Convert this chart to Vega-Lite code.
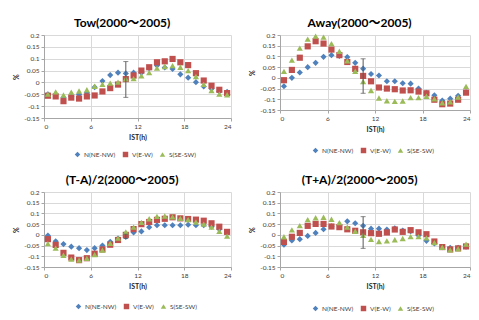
{
  "$schema": "https://vega.github.io/schema/vega-lite/v6.json",
  "background": "white",
  "padding": {"left": 12, "top": 17, "right": 4, "bottom": 2},
  "datasets": {
    "pts": [
      {"p":"T","h":0.5,"N(NE-NW)":-0.05,"V(E-W)":-0.056,"S(SE-SW)":-0.049},
      {"p":"T","h":1.5,"N(NE-NW)":-0.05,"V(E-W)":-0.059,"S(SE-SW)":-0.04},
      {"p":"T","h":2.5,"N(NE-NW)":-0.064,"V(E-W)":-0.079,"S(SE-SW)":-0.053},
      {"p":"T","h":3.5,"N(NE-NW)":-0.058,"V(E-W)":-0.064,"S(SE-SW)":-0.041},
      {"p":"T","h":4.5,"N(NE-NW)":-0.051,"V(E-W)":-0.068,"S(SE-SW)":-0.036},
      {"p":"T","h":5.5,"N(NE-NW)":-0.043,"V(E-W)":-0.059,"S(SE-SW)":-0.031},
      {"p":"T","h":6.5,"N(NE-NW)":-0.02,"V(E-W)":-0.055,"S(SE-SW)":-0.016},
      {"p":"T","h":7.5,"N(NE-NW)":0.006,"V(E-W)":-0.038,"S(SE-SW)":-0.008},
      {"p":"T","h":8.5,"N(NE-NW)":0.031,"V(E-W)":-0.024,"S(SE-SW)":-0.003},
      {"p":"T","h":9.5,"N(NE-NW)":0.041,"V(E-W)":-0.009,"S(SE-SW)":0.001},
      {"p":"T","h":10.5,"N(NE-NW)":0.038,"V(E-W)":0.014,"S(SE-SW)":0.015},
      {"p":"T","h":11.5,"N(NE-NW)":0.041,"V(E-W)":0.029,"S(SE-SW)":0.016},
      {"p":"T","h":12.5,"N(NE-NW)":0.041,"V(E-W)":0.05,"S(SE-SW)":0.028},
      {"p":"T","h":13.5,"N(NE-NW)":0.06,"V(E-W)":0.064,"S(SE-SW)":0.041},
      {"p":"T","h":14.5,"N(NE-NW)":0.071,"V(E-W)":0.085,"S(SE-SW)":0.06},
      {"p":"T","h":15.5,"N(NE-NW)":0.063,"V(E-W)":0.089,"S(SE-SW)":0.067},
      {"p":"T","h":16.5,"N(NE-NW)":0.057,"V(E-W)":0.099,"S(SE-SW)":0.071},
      {"p":"T","h":17.5,"N(NE-NW)":0.034,"V(E-W)":0.085,"S(SE-SW)":0.064},
      {"p":"T","h":18.5,"N(NE-NW)":0.02,"V(E-W)":0.073,"S(SE-SW)":0.05},
      {"p":"T","h":19.5,"N(NE-NW)":0.001,"V(E-W)":0.039,"S(SE-SW)":0.025},
      {"p":"T","h":20.5,"N(NE-NW)":-0.017,"V(E-W)":0.008,"S(SE-SW)":-0.008},
      {"p":"T","h":21.5,"N(NE-NW)":-0.027,"V(E-W)":-0.014,"S(SE-SW)":-0.034},
      {"p":"T","h":22.5,"N(NE-NW)":-0.038,"V(E-W)":-0.031,"S(SE-SW)":-0.049},
      {"p":"T","h":23.5,"N(NE-NW)":-0.04,"V(E-W)":-0.045,"S(SE-SW)":-0.052},
      {"p":"A","h":0.5,"N(NE-NW)":-0.039,"V(E-W)":-0.011,"S(SE-SW)":0.03},
      {"p":"A","h":1.5,"N(NE-NW)":0.0,"V(E-W)":0.037,"S(SE-SW)":0.083},
      {"p":"A","h":2.5,"N(NE-NW)":0.025,"V(E-W)":0.094,"S(SE-SW)":0.139},
      {"p":"A","h":3.5,"N(NE-NW)":0.05,"V(E-W)":0.147,"S(SE-SW)":0.181},
      {"p":"A","h":4.5,"N(NE-NW)":0.07,"V(E-W)":0.171,"S(SE-SW)":0.195},
      {"p":"A","h":5.5,"N(NE-NW)":0.098,"V(E-W)":0.16,"S(SE-SW)":0.19},
      {"p":"A","h":6.5,"N(NE-NW)":0.106,"V(E-W)":0.132,"S(SE-SW)":0.16},
      {"p":"A","h":7.5,"N(NE-NW)":0.102,"V(E-W)":0.106,"S(SE-SW)":0.124},
      {"p":"A","h":8.5,"N(NE-NW)":0.097,"V(E-W)":0.074,"S(SE-SW)":0.08},
      {"p":"A","h":9.5,"N(NE-NW)":0.07,"V(E-W)":0.042,"S(SE-SW)":0.031},
      {"p":"A","h":10.5,"N(NE-NW)":0.043,"V(E-W)":0.009,"S(SE-SW)":-0.017},
      {"p":"A","h":11.5,"N(NE-NW)":0.018,"V(E-W)":-0.016,"S(SE-SW)":-0.059},
      {"p":"A","h":12.5,"N(NE-NW)":0.011,"V(E-W)":-0.045,"S(SE-SW)":-0.094},
      {"p":"A","h":13.5,"N(NE-NW)":-0.016,"V(E-W)":-0.05,"S(SE-SW)":-0.107},
      {"p":"A","h":14.5,"N(NE-NW)":-0.016,"V(E-W)":-0.053,"S(SE-SW)":-0.11},
      {"p":"A","h":15.5,"N(NE-NW)":-0.025,"V(E-W)":-0.059,"S(SE-SW)":-0.108},
      {"p":"A","h":16.5,"N(NE-NW)":-0.027,"V(E-W)":-0.058,"S(SE-SW)":-0.092},
      {"p":"A","h":17.5,"N(NE-NW)":-0.05,"V(E-W)":-0.064,"S(SE-SW)":-0.092},
      {"p":"A","h":18.5,"N(NE-NW)":-0.07,"V(E-W)":-0.072,"S(SE-SW)":-0.086},
      {"p":"A","h":19.5,"N(NE-NW)":-0.081,"V(E-W)":-0.102,"S(SE-SW)":-0.098},
      {"p":"A","h":20.5,"N(NE-NW)":-0.106,"V(E-W)":-0.123,"S(SE-SW)":-0.116},
      {"p":"A","h":21.5,"N(NE-NW)":-0.097,"V(E-W)":-0.12,"S(SE-SW)":-0.112},
      {"p":"A","h":22.5,"N(NE-NW)":-0.084,"V(E-W)":-0.102,"S(SE-SW)":-0.09},
      {"p":"A","h":23.5,"N(NE-NW)":-0.067,"V(E-W)":-0.069,"S(SE-SW)":-0.04},
      {"p":"M","h":0.5,"N(NE-NW)":-0.003,"V(E-W)":-0.02,"S(SE-SW)":-0.041},
      {"p":"M","h":1.5,"N(NE-NW)":-0.03,"V(E-W)":-0.047,"S(SE-SW)":-0.062},
      {"p":"M","h":2.5,"N(NE-NW)":-0.043,"V(E-W)":-0.084,"S(SE-SW)":-0.095},
      {"p":"M","h":3.5,"N(NE-NW)":-0.055,"V(E-W)":-0.106,"S(SE-SW)":-0.113},
      {"p":"M","h":4.5,"N(NE-NW)":-0.062,"V(E-W)":-0.118,"S(SE-SW)":-0.118},
      {"p":"M","h":5.5,"N(NE-NW)":-0.071,"V(E-W)":-0.109,"S(SE-SW)":-0.11},
      {"p":"M","h":6.5,"N(NE-NW)":-0.062,"V(E-W)":-0.088,"S(SE-SW)":-0.092},
      {"p":"M","h":7.5,"N(NE-NW)":-0.05,"V(E-W)":-0.068,"S(SE-SW)":-0.071},
      {"p":"M","h":8.5,"N(NE-NW)":-0.032,"V(E-W)":-0.046,"S(SE-SW)":-0.04},
      {"p":"M","h":9.5,"N(NE-NW)":-0.017,"V(E-W)":-0.024,"S(SE-SW)":-0.015},
      {"p":"M","h":10.5,"N(NE-NW)":-0.01,"V(E-W)":0.0,"S(SE-SW)":0.014},
      {"p":"M","h":11.5,"N(NE-NW)":0.011,"V(E-W)":0.027,"S(SE-SW)":0.036},
      {"p":"M","h":12.5,"N(NE-NW)":0.016,"V(E-W)":0.05,"S(SE-SW)":0.058},
      {"p":"M","h":13.5,"N(NE-NW)":0.036,"V(E-W)":0.06,"S(SE-SW)":0.075},
      {"p":"M","h":14.5,"N(NE-NW)":0.045,"V(E-W)":0.07,"S(SE-SW)":0.086},
      {"p":"M","h":15.5,"N(NE-NW)":0.045,"V(E-W)":0.075,"S(SE-SW)":0.088},
      {"p":"M","h":16.5,"N(NE-NW)":0.045,"V(E-W)":0.082,"S(SE-SW)":0.084},
      {"p":"M","h":17.5,"N(NE-NW)":0.045,"V(E-W)":0.077,"S(SE-SW)":0.077},
      {"p":"M","h":18.5,"N(NE-NW)":0.047,"V(E-W)":0.074,"S(SE-SW)":0.071},
      {"p":"M","h":19.5,"N(NE-NW)":0.045,"V(E-W)":0.071,"S(SE-SW)":0.06},
      {"p":"M","h":20.5,"N(NE-NW)":0.045,"V(E-W)":0.066,"S(SE-SW)":0.05},
      {"p":"M","h":21.5,"N(NE-NW)":0.038,"V(E-W)":0.054,"S(SE-SW)":0.036},
      {"p":"M","h":22.5,"N(NE-NW)":0.026,"V(E-W)":0.038,"S(SE-SW)":0.017},
      {"p":"M","h":23.5,"N(NE-NW)":0.01,"V(E-W)":0.014,"S(SE-SW)":-0.006},
      {"p":"P","h":0.5,"N(NE-NW)":-0.046,"V(E-W)":-0.033,"S(SE-SW)":-0.009},
      {"p":"P","h":1.5,"N(NE-NW)":-0.026,"V(E-W)":-0.009,"S(SE-SW)":0.023},
      {"p":"P","h":2.5,"N(NE-NW)":-0.02,"V(E-W)":0.009,"S(SE-SW)":0.043},
      {"p":"P","h":3.5,"N(NE-NW)":-0.005,"V(E-W)":0.042,"S(SE-SW)":0.071},
      {"p":"P","h":4.5,"N(NE-NW)":0.009,"V(E-W)":0.051,"S(SE-SW)":0.08},
      {"p":"P","h":5.5,"N(NE-NW)":0.026,"V(E-W)":0.051,"S(SE-SW)":0.082},
      {"p":"P","h":6.5,"N(NE-NW)":0.04,"V(E-W)":0.039,"S(SE-SW)":0.073},
      {"p":"P","h":7.5,"N(NE-NW)":0.045,"V(E-W)":0.036,"S(SE-SW)":0.057},
      {"p":"P","h":8.5,"N(NE-NW)":0.063,"V(E-W)":0.026,"S(SE-SW)":0.036},
      {"p":"P","h":9.5,"N(NE-NW)":0.054,"V(E-W)":0.019,"S(SE-SW)":0.017},
      {"p":"P","h":10.5,"N(NE-NW)":0.042,"V(E-W)":0.012,"S(SE-SW)":-0.002},
      {"p":"P","h":11.5,"N(NE-NW)":0.029,"V(E-W)":0.008,"S(SE-SW)":-0.021},
      {"p":"P","h":12.5,"N(NE-NW)":0.029,"V(E-W)":0.005,"S(SE-SW)":-0.031},
      {"p":"P","h":13.5,"N(NE-NW)":0.025,"V(E-W)":0.011,"S(SE-SW)":-0.028},
      {"p":"P","h":14.5,"N(NE-NW)":0.031,"V(E-W)":0.025,"S(SE-SW)":-0.023},
      {"p":"P","h":15.5,"N(NE-NW)":0.02,"V(E-W)":0.014,"S(SE-SW)":-0.017},
      {"p":"P","h":16.5,"N(NE-NW)":0.017,"V(E-W)":0.022,"S(SE-SW)":-0.008},
      {"p":"P","h":17.5,"N(NE-NW)":-0.003,"V(E-W)":0.012,"S(SE-SW)":-0.008},
      {"p":"P","h":18.5,"N(NE-NW)":-0.028,"V(E-W)":0.003,"S(SE-SW)":-0.014},
      {"p":"P","h":19.5,"N(NE-NW)":-0.04,"V(E-W)":-0.031,"S(SE-SW)":-0.036},
      {"p":"P","h":20.5,"N(NE-NW)":-0.058,"V(E-W)":-0.057,"S(SE-SW)":-0.058},
      {"p":"P","h":21.5,"N(NE-NW)":-0.06,"V(E-W)":-0.068,"S(SE-SW)":-0.07},
      {"p":"P","h":22.5,"N(NE-NW)":-0.06,"V(E-W)":-0.063,"S(SE-SW)":-0.065},
      {"p":"P","h":23.5,"N(NE-NW)":-0.055,"V(E-W)":-0.054,"S(SE-SW)":-0.043}
    ],
    "err": [
      {"p":"T","h":10.5,"lo":-0.063,"hi":0.088},
      {"p":"A","h":10.5,"lo":-0.072,"hi":0.089},
      {"p":"M","h":10.5,"lo":-0.017,"hi":0.003},
      {"p":"P","h":10.5,"lo":-0.063,"hi":0.085}
    ]
  },
  "config": {
    "font": "Lato, 'Noto Sans CJK JP', sans-serif",
    "view": {"stroke": null},
    "axis": {"labelFontSize": 6.5, "labelColor": "#404040", "grid": true, "gridColor": "#d9d9d9", "domainColor": "#a6a6a6", "tickColor": "#a6a6a6", "tickSize": 3, "titleFontSize": 7, "titleFontWeight": "bold", "titleColor": "#262626", "labelPadding": 2, "labelOverlap": false},
    "title": {"fontSize": 12, "fontWeight": "bold", "frame": "bounds", "offset": 2, "color": "#000000", "anchor": "middle"},
    "legend": {"orient": "none", "direction": "horizontal", "labelFontSize": 6.5, "labelColor": "#404040", "symbolSize": 30, "columnPadding": 6, "padding": 0, "labelOffset": 3}
  },
  "resolve": {"legend": {"color": "independent", "shape": "independent"}},
  "spacing": 16,
  "vconcat": [
    {
      "spacing": 16,
      "resolve": {"legend": {"color": "independent", "shape": "independent"}},
      "hconcat": [
        {
          "width": 187, "height": 83,
          "title": "Tow(2000～2005)",
          "layer": [
            {
              "data": {"name": "pts"},
              "transform": [{"filter": "datum.p === 'T'"}, {"fold": ["N(NE-NW)", "V(E-W)", "S(SE-SW)"], "as": ["series", "pct"]}],
              "mark": {"type": "point", "filled": true, "size": 38, "opacity": 1},
              "encoding": {
                "x": {"field": "h", "type": "quantitative", "title": "IST(h)", "scale": {"domain": [0, 24], "nice": false}, "axis": {"values": [0, 6, 12, 18, 24]}},
                "y": {"field": "pct", "type": "quantitative", "title": "%", "scale": {"domain": [-0.15, 0.2], "nice": false}, "axis": {"values": [-0.15, -0.1, -0.05, 0, 0.05, 0.1, 0.15, 0.2], "labelExpr": "'' + datum.value"}},
                "color": {"field": "series", "type": "nominal", "scale": {"domain": ["N(NE-NW)", "V(E-W)", "S(SE-SW)"], "range": ["#4F81BD", "#C0504D", "#9BBB59"]}, "legend": {"title": null, "legendX": 30, "legendY": 116}},
                "shape": {"field": "series", "type": "nominal", "scale": {"domain": ["N(NE-NW)", "V(E-W)", "S(SE-SW)"], "range": ["diamond", "square", "triangle-up"]}, "legend": {"title": null, "legendX": 30, "legendY": 116}}
              }
            },
            {
              "data": {"name": "err"},
              "transform": [{"filter": "datum.p === 'T'"}],
              "mark": {"type": "errorbar", "ticks": true, "color": "#595959"},
              "encoding": {
                "x": {"field": "h", "type": "quantitative", "title": "IST(h)", "scale": {"domain": [0, 24], "nice": false}, "axis": {"values": [0, 6, 12, 18, 24]}},
                "y": {"field": "lo", "type": "quantitative", "title": "%", "scale": {"domain": [-0.15, 0.2], "nice": false}, "axis": {"values": [-0.15, -0.1, -0.05, 0, 0.05, 0.1, 0.15, 0.2], "labelExpr": "'' + datum.value"}},
                "y2": {"field": "hi"}
              }
            }
          ]
        },
        {
          "width": 190, "height": 75,
          "title": "Away(2000～2005)",
          "layer": [
            {
              "data": {"name": "pts"},
              "transform": [{"filter": "datum.p === 'A'"}, {"fold": ["N(NE-NW)", "V(E-W)", "S(SE-SW)"], "as": ["series", "pct"]}],
              "mark": {"type": "point", "filled": true, "size": 38, "opacity": 1},
              "encoding": {
                "x": {"field": "h", "type": "quantitative", "title": "IST(h)", "scale": {"domain": [0, 24], "nice": false}, "axis": {"values": [0, 6, 12, 18, 24]}},
                "y": {"field": "pct", "type": "quantitative", "title": "%", "scale": {"domain": [-0.15, 0.2], "nice": false}, "axis": {"values": [-0.15, -0.1, -0.05, 0, 0.05, 0.1, 0.15, 0.2], "labelExpr": "'' + datum.value"}},
                "color": {"field": "series", "type": "nominal", "scale": {"domain": ["N(NE-NW)", "V(E-W)", "S(SE-SW)"], "range": ["#4F81BD", "#C0504D", "#9BBB59"]}, "legend": {"title": null, "legendX": 32, "legendY": 112}},
                "shape": {"field": "series", "type": "nominal", "scale": {"domain": ["N(NE-NW)", "V(E-W)", "S(SE-SW)"], "range": ["diamond", "square", "triangle-up"]}, "legend": {"title": null, "legendX": 32, "legendY": 112}}
              }
            },
            {
              "data": {"name": "err"},
              "transform": [{"filter": "datum.p === 'A'"}],
              "mark": {"type": "errorbar", "ticks": true, "color": "#595959"},
              "encoding": {
                "x": {"field": "h", "type": "quantitative", "title": "IST(h)", "scale": {"domain": [0, 24], "nice": false}, "axis": {"values": [0, 6, 12, 18, 24]}},
                "y": {"field": "lo", "type": "quantitative", "title": "%", "scale": {"domain": [-0.15, 0.2], "nice": false}, "axis": {"values": [-0.15, -0.1, -0.05, 0, 0.05, 0.1, 0.15, 0.2], "labelExpr": "'' + datum.value"}},
                "y2": {"field": "hi"}
              }
            }
          ]
        }
      ]
    },
    {
      "spacing": 16,
      "resolve": {"legend": {"color": "independent", "shape": "independent"}},
      "hconcat": [
        {
          "width": 187, "height": 75,
          "title": "(T-A)/2(2000～2005)",
          "layer": [
            {
              "data": {"name": "pts"},
              "transform": [{"filter": "datum.p === 'M'"}, {"fold": ["N(NE-NW)", "V(E-W)", "S(SE-SW)"], "as": ["series", "pct"]}],
              "mark": {"type": "point", "filled": true, "size": 38, "opacity": 1},
              "encoding": {
                "x": {"field": "h", "type": "quantitative", "title": "IST(h)", "scale": {"domain": [0, 24], "nice": false}, "axis": {"values": [0, 6, 12, 18, 24]}},
                "y": {"field": "pct", "type": "quantitative", "title": "%", "scale": {"domain": [-0.15, 0.2], "nice": false}, "axis": {"values": [-0.15, -0.1, -0.05, 0, 0.05, 0.1, 0.15, 0.2], "labelExpr": "'' + datum.value"}},
                "color": {"field": "series", "type": "nominal", "scale": {"domain": ["N(NE-NW)", "V(E-W)", "S(SE-SW)"], "range": ["#4F81BD", "#C0504D", "#9BBB59"]}, "legend": {"title": null, "legendX": 31, "legendY": 111}},
                "shape": {"field": "series", "type": "nominal", "scale": {"domain": ["N(NE-NW)", "V(E-W)", "S(SE-SW)"], "range": ["diamond", "square", "triangle-up"]}, "legend": {"title": null, "legendX": 31, "legendY": 111}}
              }
            },
            {
              "data": {"name": "err"},
              "transform": [{"filter": "datum.p === 'M'"}],
              "mark": {"type": "errorbar", "ticks": true, "color": "#595959"},
              "encoding": {
                "x": {"field": "h", "type": "quantitative", "title": "IST(h)", "scale": {"domain": [0, 24], "nice": false}, "axis": {"values": [0, 6, 12, 18, 24]}},
                "y": {"field": "lo", "type": "quantitative", "title": "%", "scale": {"domain": [-0.15, 0.2], "nice": false}, "axis": {"values": [-0.15, -0.1, -0.05, 0, 0.05, 0.1, 0.15, 0.2], "labelExpr": "'' + datum.value"}},
                "y2": {"field": "hi"}
              }
            }
          ]
        },
        {
          "width": 190, "height": 75,
          "title": "(T+A)/2(2000～2005)",
          "layer": [
            {
              "data": {"name": "pts"},
              "transform": [{"filter": "datum.p === 'P'"}, {"fold": ["N(NE-NW)", "V(E-W)", "S(SE-SW)"], "as": ["series", "pct"]}],
              "mark": {"type": "point", "filled": true, "size": 38, "opacity": 1},
              "encoding": {
                "x": {"field": "h", "type": "quantitative", "title": "IST(h)", "scale": {"domain": [0, 24], "nice": false}, "axis": {"values": [0, 6, 12, 18, 24]}},
                "y": {"field": "pct", "type": "quantitative", "title": "%", "scale": {"domain": [-0.15, 0.2], "nice": false}, "axis": {"values": [-0.15, -0.1, -0.05, 0, 0.05, 0.1, 0.15, 0.2], "labelExpr": "'' + datum.value"}},
                "color": {"field": "series", "type": "nominal", "scale": {"domain": ["N(NE-NW)", "V(E-W)", "S(SE-SW)"], "range": ["#4F81BD", "#C0504D", "#9BBB59"]}, "legend": {"title": null, "legendX": 32, "legendY": 113}},
                "shape": {"field": "series", "type": "nominal", "scale": {"domain": ["N(NE-NW)", "V(E-W)", "S(SE-SW)"], "range": ["diamond", "square", "triangle-up"]}, "legend": {"title": null, "legendX": 32, "legendY": 113}}
              }
            },
            {
              "data": {"name": "err"},
              "transform": [{"filter": "datum.p === 'P'"}],
              "mark": {"type": "errorbar", "ticks": true, "color": "#595959"},
              "encoding": {
                "x": {"field": "h", "type": "quantitative", "title": "IST(h)", "scale": {"domain": [0, 24], "nice": false}, "axis": {"values": [0, 6, 12, 18, 24]}},
                "y": {"field": "lo", "type": "quantitative", "title": "%", "scale": {"domain": [-0.15, 0.2], "nice": false}, "axis": {"values": [-0.15, -0.1, -0.05, 0, 0.05, 0.1, 0.15, 0.2], "labelExpr": "'' + datum.value"}},
                "y2": {"field": "hi"}
              }
            }
          ]
        }
      ]
    }
  ]
}
